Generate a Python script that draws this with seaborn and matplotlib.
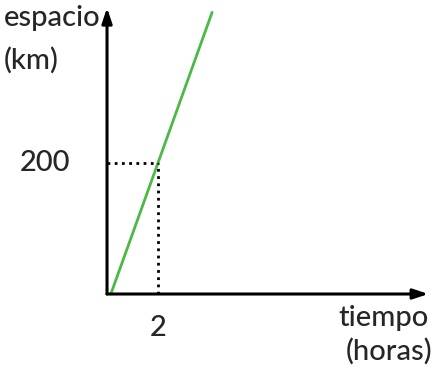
import matplotlib
matplotlib.use("Agg")
import matplotlib.pyplot as plt
import seaborn as sns
import pandas as pd

# line data
tiempo = [0.15, 4.12]
espacio = [0, 430]
punto_x = 2
punto_y = 200

sns.set_style("white")
plt.rcParams["font.family"] = ["Lato", "DejaVu Sans"]

fig = plt.figure(figsize=(4.34, 3.69), dpi=100)
ax = fig.add_axes([0, 0, 1, 1])
ax.set_xlim(-4.196, 12.82)
ax.set_ylim(-114.5, 448.9)
ax.axis("off")

df = pd.DataFrame({"tiempo": tiempo, "espacio": espacio})
sns.lineplot(data=df, x="tiempo", y="espacio", color="#4cb947", lw=2, ax=ax)

# dotted guides
ax.plot([0, punto_x], [punto_y, punto_y], color="black", ls=(0, (1, 1.6)), lw=2)
ax.plot([punto_x, punto_x], [0, punto_y], color="black", ls=(0, (1, 1.6)), lw=2)

# axes with arrows
arrow = dict(arrowstyle="-|>,head_length=0.9,head_width=0.3", color="black", lw=2.2,
             shrinkA=0, shrinkB=0)
ax.annotate("", xy=(12.6, 0), xytext=(0, 0), arrowprops=arrow)
ax.annotate("", xy=(0, 437), xytext=(0, 0), arrowprops=arrow)

fs = 21
ax.text(-0.25, 421, "espacio", ha="right", va="center", fontsize=fs, fontweight="medium")
ax.text(-4.05, 357, "(km)", ha="left", va="center", fontsize=fs, fontweight="medium")
ax.text(-1.45, punto_y, "200", ha="right", va="center", fontsize=fs, fontweight="medium")
ax.text(punto_x, -52, "2", ha="center", va="center", fontsize=fs, fontweight="medium")
ax.text(12.6, -36, "tiempo", ha="right", va="center", fontsize=fs, fontweight="medium")
ax.text(12.75, -88, "(horas)", ha="right", va="center", fontsize=fs, fontweight="medium")

fig.savefig("out.png", dpi=100)
